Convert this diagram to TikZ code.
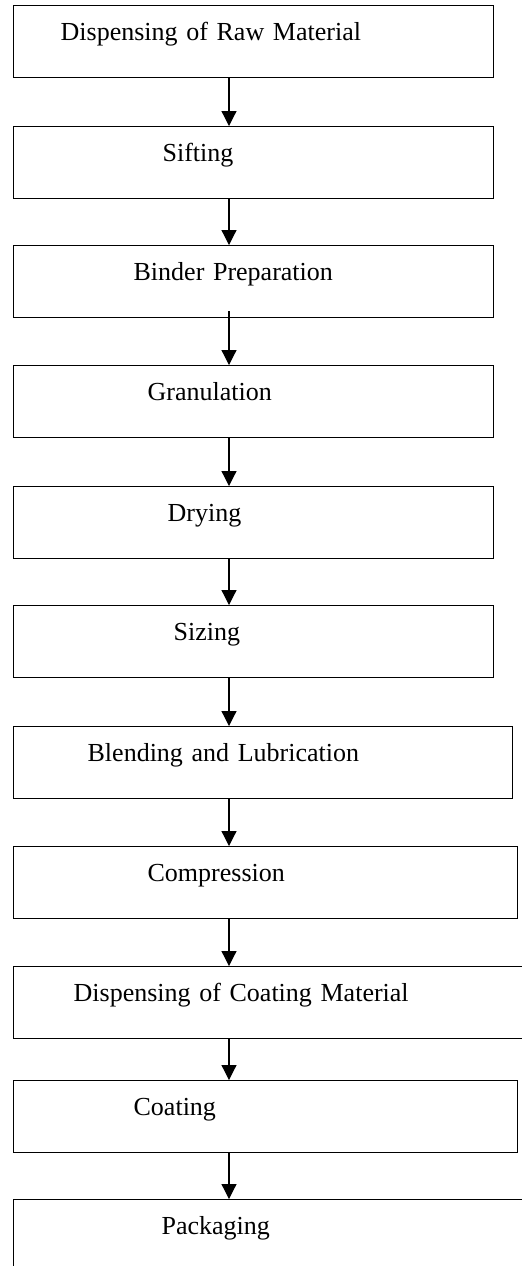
\documentclass[tikz,border=0pt]{standalone}
\usepackage{fontspec}
\setmainfont{Liberation Serif}
\usetikzlibrary{arrows.meta, calc}

\tikzset{
  stepbox/.style={draw, line width=0.65pt, rectangle, anchor=north west, align=left,
    inner ysep=0pt, text height=17.5pt, text depth=18.5pt,
    font=\fontsize{13}{15}\selectfont},
  flow/.style={line width=0.6pt, -{Triangle[length=7.5pt, width=7.5pt]}}
}

\begin{document}
\begin{tikzpicture}[x=0.5pt, y=-0.5pt]
      % page frame
      \useasboundingbox (0,0) rectangle (522,1266);
      \clip (0,0) rectangle (522,1266);

      % Process steps
      \node[stepbox, inner xsep=23.5pt, text width=193pt] (disp) at (13,5) {Dispensing of Raw Material};
      \node[stepbox, inner xsep=74.5pt, text width=91pt] (sift) at (13,126) {Sifting};
      \node[stepbox, inner xsep=60pt, text width=120pt] (bind) at (13,245) {Binder Preparation};
      \node[stepbox, inner xsep=67pt, text width=106pt] (gran) at (13,365) {Granulation};
      \node[stepbox, inner xsep=77pt, text width=86pt] (dry) at (13,486) {Drying};
      \node[stepbox, inner xsep=80pt, text width=80pt] (size) at (13,605) {Sizing};
      \node[stepbox, inner xsep=37pt, text width=175.5pt] (blend) at (13,726) {Blending and Lubrication};
      \node[stepbox, inner xsep=67pt, text width=118pt] (comp) at (13,846) {Compression};
      \node[stepbox, inner xsep=30pt, text width=205pt] (coatmat) at (13,966) {Dispensing of Coating Material};
      \node[stepbox, inner xsep=60pt, text width=132pt] (coat) at (13,1080) {Coating};
      \node[stepbox, inner xsep=74pt, text width=117pt, text depth=35pt] (pack) at (13,1199) {Packaging};

      % Arrows
      \coordinate (ax) at (229,0);
      \foreach \a/\b/\o in {disp/sift/0, sift/bind/0, bind/gran/7, gran/dry/0, dry/size/0,
        size/blend/0, blend/comp/0, comp/coatmat/0, coatmat/coat/0, coat/pack/0} {
        \draw[flow] ($(\a.south -| ax)+(0,-\o)$) -- (\b.north -| ax);
      }
\end{tikzpicture}
\end{document}
